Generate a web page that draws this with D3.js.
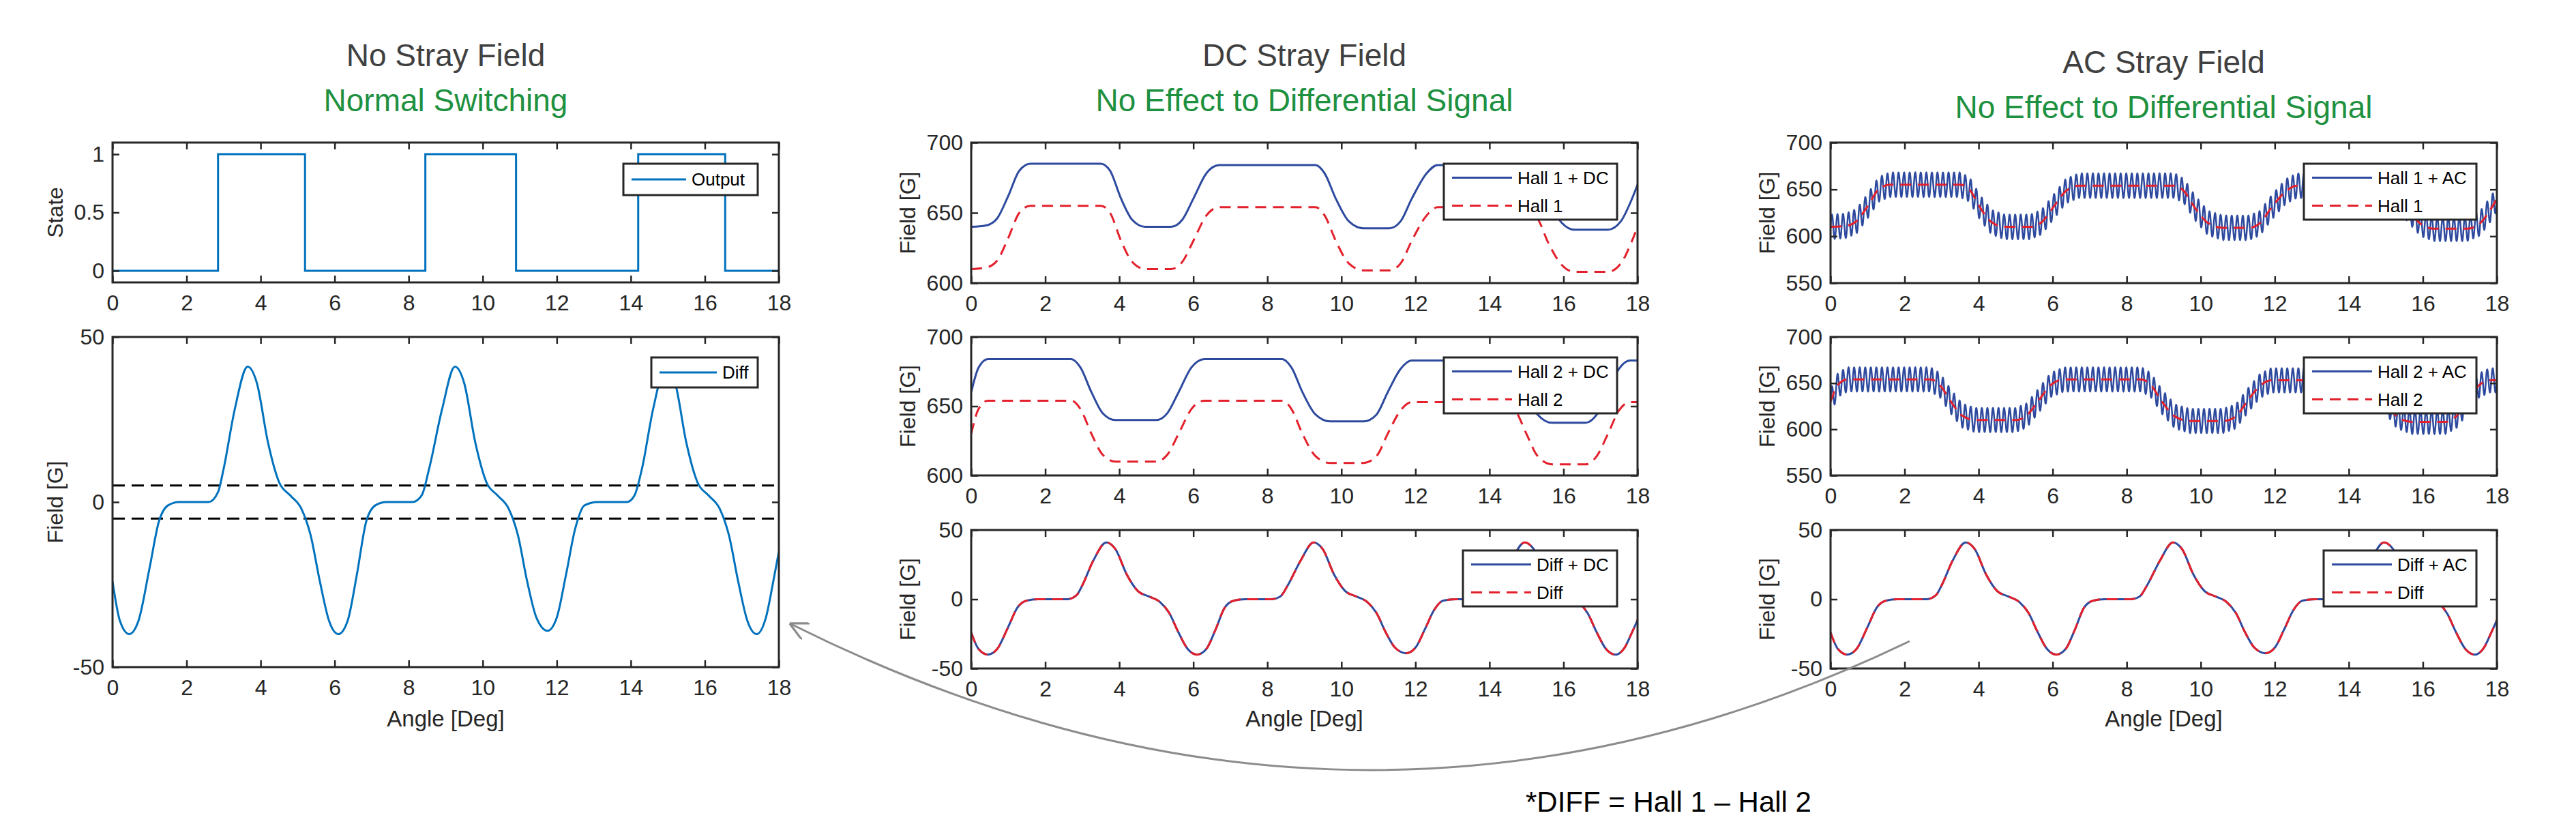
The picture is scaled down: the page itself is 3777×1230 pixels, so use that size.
<!DOCTYPE html>
<html><head><meta charset="utf-8">
<script src="https://cdn.jsdelivr.net/npm/d3@7"></script>
<style>body{margin:0;background:#fff;font-family:Arial,"Liberation Sans",sans-serif;}</style>
</head><body><svg id="chart" width="3777" height="1230"></svg>
<script>
// values (angle in deg, field in G)
const xTicks = [0, 2, 4, 6, 8, 10, 12, 14, 16, 18];
const outputEdges = [0, 2.85, 5.2, 8.45, 10.9, 14.2, 16.55, 18];
const outputLevels = [0, 1, 0, 1, 0, 1, 0];
const diffAngle = [0,0.2,0.45,0.7,1.0,1.25,1.5,1.8,2.6,2.85,3.0,3.3,3.65,3.9,4.2,4.5,4.8,5.1,5.35,5.6,5.85,6.1,6.35,6.6,6.85,7.1,7.4,8.1,8.35,8.55,8.9,9.25,9.5,9.8,10.1,10.4,10.7,10.95,11.2,11.45,11.75,12.0,12.25,12.5,12.75,13.1,13.9,14.1,14.3,14.6,14.95,15.2,15.5,15.8,16.1,16.4,16.65,16.9,17.15,17.4,17.65,17.85,18];
const diffValue = [-24,-36,-40,-36,-20,-6,-1,0,0,3,10,28,41,36,18,6,2,-2,-10,-24,-36,-40,-36,-22,-6,-1,0,0,2,10,28,41,36,18,6,2,-2,-10,-24,-35,-39,-35,-22,-8,-1,0,0,2,10,28,41,36,18,6,2,-2,-10,-24,-36,-40,-35,-24,-15];
const hall1Angle = [0,0.4,0.7,1.0,1.3,1.6,3.5,3.75,4.05,4.35,4.7,5.4,5.7,6.0,6.35,6.7,9.3,9.55,9.85,10.2,10.6,11.3,11.6,11.9,12.3,12.6,15.0,15.3,15.6,15.95,16.3,17.2,17.55,17.85,18];
const hall1Value = [610,611,616,632,650,655,655,650,630,615,610,610,615,630,648,654,654,648,630,614,609,609,614,630,648,654,653,646,628,613,608,608,614,630,640];
const hall2Angle = [0,0.2,0.45,2.7,2.95,3.25,3.55,3.9,5.0,5.3,5.6,5.95,6.3,8.4,8.65,8.95,9.3,9.7,10.6,10.95,11.25,11.6,11.9,14.4,14.7,15.0,15.3,15.7,16.6,16.9,17.2,17.5,17.8,18];
const hall2Value = [630,648,654,654,648,630,615,610,610,615,630,648,654,654,648,630,614,609,609,614,630,647,653,653,647,630,614,608,608,614,630,647,653,653];
const dcOffset = 30;      // DC stray field, G
const acAmplitude = 13;   // AC stray field amplitude, G
const acPeriod = 0.15;    // AC stray field period, deg

const svg = d3.select("#chart");
const ink = "#262626", blue = "#0072BD", navy = "#2E4A9E", red = "#E3202B";
const pts = (xs, ys) => xs.map((x, i) => [x, ys[i]]);
const lin = (xs, ys) => d3.scaleLinear().domain(xs).range(ys);

function withAC(xs, ys) {
  const f = lin(xs, ys);
  return d3.range(0, 18.0001, 0.004).map(x => [x, f(x) + acAmplitude * Math.sin(2 * Math.PI * x / acPeriod)]);
}

function panel(o) {
  const x = d3.scaleLinear().domain([0, 18]).range([o.x0, o.x1]);
  const y = d3.scaleLinear().domain(o.ydom).range([o.y1, o.y0]);
  const g = svg.append("g");
  const clipId = "c" + Math.round(o.x0) + "_" + Math.round(o.y0);
  g.append("clipPath").attr("id", clipId).append("rect")
    .attr("x", o.x0).attr("y", o.y0).attr("width", o.x1 - o.x0).attr("height", o.y1 - o.y0);
  const plot = g.append("g").attr("clip-path", `url(#${clipId})`);
  (o.hlines || []).forEach(v => plot.append("line").attr("x1", o.x0).attr("x2", o.x1)
    .attr("y1", y(v)).attr("y2", y(v)).attr("stroke", "#000").attr("stroke-width", 3).attr("stroke-dasharray", "18,10"));
  o.series.forEach(s => plot.append("path").datum(s.data)
    .attr("d", d3.line().x(d => x(d[0])).y(d => y(d[1])).curve(s.curve || d3.curveMonotoneX))
    .attr("fill", "none").attr("stroke", s.color).attr("stroke-width", s.w || 3)
    .attr("stroke-dasharray", s.dash ? "16,10" : null));
  // axes (MATLAB style, inward ticks on all sides)
  const tl = 10;
  const ax = g.append("g").attr("transform", `translate(0,${o.y1})`)
    .call(d3.axisBottom(x).tickValues(xTicks).tickSize(-tl).tickPadding(18).tickFormat(d3.format("d")));
  const axT = g.append("g").attr("transform", `translate(0,${o.y0})`)
    .call(d3.axisTop(x).tickValues(xTicks).tickSize(-tl).tickFormat(""));
  const ay = g.append("g").attr("transform", `translate(${o.x0},0)`)
    .call(d3.axisLeft(y).tickValues(o.yticks).tickSize(-tl).tickPadding(12).tickFormat(d => d));
  const ayR = g.append("g").attr("transform", `translate(${o.x1},0)`)
    .call(d3.axisRight(y).tickValues(o.yticks).tickSize(-tl).tickFormat(""));
  [ax, axT, ay, ayR].forEach(a => {
    a.select(".domain").remove();
    a.selectAll("line").attr("stroke", ink).attr("stroke-width", 2.5);
    a.selectAll("text").attr("fill", ink).style("font-size", "32px").style("font-family", "Arial, Liberation Sans");
  });
  g.append("rect").attr("x", o.x0).attr("y", o.y0).attr("width", o.x1 - o.x0).attr("height", o.y1 - o.y0)
    .attr("fill", "none").attr("stroke", ink).attr("stroke-width", 3);
  g.append("text").attr("transform", `translate(${o.ylabX},${(o.y0 + o.y1) / 2}) rotate(-90)`)
    .attr("text-anchor", "middle").attr("fill", ink).style("font-size", "32px").text(o.ylabel);
  // legend
  const L = o.legend;
  g.append("rect").attr("x", L.x).attr("y", L.y).attr("width", L.w).attr("height", L.h)
    .attr("fill", "#fff").attr("stroke", ink).attr("stroke-width", 3);
  const rowH = L.h / L.items.length;
  L.items.forEach((it, i) => {
    const cy = L.y + rowH * (i + 0.5);
    g.append("line").attr("x1", L.x + 12).attr("x2", L.x + 12 + L.sw).attr("y1", cy).attr("y2", cy)
      .attr("stroke", it.color).attr("stroke-width", 3).attr("stroke-dasharray", it.dash ? "16,10" : null);
    g.append("text").attr("x", L.x + 20 + L.sw).attr("y", cy + 9).attr("fill", "#000")
      .style("font-size", "26px").text(it.label);
  });
}

function title(cx, y, a, b) {
  svg.append("text").attr("x", cx).attr("y", y).attr("text-anchor", "middle").attr("fill", "#404040")
    .style("font-size", "46px").text(a);
  svg.append("text").attr("x", cx).attr("y", y + 66).attr("text-anchor", "middle").attr("fill", "#1E9140")
    .style("font-size", "46px").text(b);
}
function xlabel(cx) {
  svg.append("text").attr("x", cx).attr("y", 1065).attr("text-anchor", "middle").attr("fill", ink)
    .style("font-size", "33px").text("Angle [Deg]");
}

const diff = pts(diffAngle, diffValue);
const hall1 = pts(hall1Angle, hall1Value), hall2 = pts(hall2Angle, hall2Value);
const plus = (arr, c) => arr.map(d => [d[0], d[1] + c]);
const outputPts = [];
outputLevels.forEach((v, i) => { outputPts.push([outputEdges[i], v], [outputEdges[i + 1], v]); });

// ---- left column
const L0 = 165, L1 = 1142;
title((L0 + L1) / 2, 97, "No Stray Field", "Normal Switching");
panel({x0: L0, x1: L1, y0: 209, y1: 414, ydom: [-0.1, 1.1], yticks: [0, 0.5, 1], ylabel: "State", ylabX: 92,
  series: [{data: outputPts, color: blue, curve: d3.curveLinear}],
  legend: {x: 914, y: 240, w: 197, h: 46, sw: 80, items: [{label: "Output", color: blue}]}});
panel({x0: L0, x1: L1, y0: 494, y1: 978, ydom: [-50, 50], yticks: [-50, 0, 50], ylabel: "Field [G]", ylabX: 92,
  hlines: [5, -5], series: [{data: diff, color: blue}],
  legend: {x: 955, y: 524, w: 156, h: 44, sw: 84, items: [{label: "Diff", color: blue}]}});
xlabel((L0 + L1) / 2);

// ---- middle column (DC)
const M0 = 1424, M1 = 2401;
title((M0 + M1) / 2, 97, "DC Stray Field", "No Effect to Differential Signal");
panel({x0: M0, x1: M1, y0: 209, y1: 415, ydom: [600, 700], yticks: [600, 650, 700], ylabel: "Field [G]", ylabX: 1342,
  series: [{data: plus(hall1, dcOffset), color: navy}, {data: hall1, color: red, dash: true}],
  legend: {x: 2117, y: 240, w: 254, h: 82, sw: 88, items: [{label: "Hall 1 + DC", color: navy}, {label: "Hall 1", color: red, dash: true}]}});
panel({x0: M0, x1: M1, y0: 494, y1: 697, ydom: [600, 700], yticks: [600, 650, 700], ylabel: "Field [G]", ylabX: 1342,
  series: [{data: plus(hall2, dcOffset), color: navy}, {data: hall2, color: red, dash: true}],
  legend: {x: 2117, y: 524, w: 254, h: 82, sw: 88, items: [{label: "Hall 2 + DC", color: navy}, {label: "Hall 2", color: red, dash: true}]}});
panel({x0: M0, x1: M1, y0: 777, y1: 980, ydom: [-50, 50], yticks: [-50, 0, 50], ylabel: "Field [G]", ylabX: 1342,
  series: [{data: diff, color: navy}, {data: diff, color: red, dash: true}],
  legend: {x: 2145, y: 807, w: 226, h: 82, sw: 88, items: [{label: "Diff + DC", color: navy}, {label: "Diff", color: red, dash: true}]}});
xlabel((M0 + M1) / 2);

// ---- right column (AC)
const R0 = 2684, R1 = 3661;
title((R0 + R1) / 2, 107, "AC Stray Field", "No Effect to Differential Signal");
panel({x0: R0, x1: R1, y0: 209, y1: 415, ydom: [550, 700], yticks: [550, 600, 650, 700], ylabel: "Field [G]", ylabX: 2602,
  series: [{data: withAC(hall1Angle, hall1Value), color: navy, w: 2.5, curve: d3.curveLinear}, {data: hall1, color: red, dash: true}],
  legend: {x: 3378, y: 240, w: 253, h: 82, sw: 88, items: [{label: "Hall 1 + AC", color: navy}, {label: "Hall 1", color: red, dash: true}]}});
panel({x0: R0, x1: R1, y0: 494, y1: 697, ydom: [550, 700], yticks: [550, 600, 650, 700], ylabel: "Field [G]", ylabX: 2602,
  series: [{data: withAC(hall2Angle, hall2Value), color: navy, w: 2.5, curve: d3.curveLinear}, {data: hall2, color: red, dash: true}],
  legend: {x: 3378, y: 524, w: 253, h: 82, sw: 88, items: [{label: "Hall 2 + AC", color: navy}, {label: "Hall 2", color: red, dash: true}]}});
panel({x0: R0, x1: R1, y0: 777, y1: 980, ydom: [-50, 50], yticks: [-50, 0, 50], ylabel: "Field [G]", ylabX: 2602,
  series: [{data: diff, color: navy}, {data: diff, color: red, dash: true}],
  legend: {x: 3407, y: 807, w: 224, h: 82, sw: 88, items: [{label: "Diff + AC", color: navy}, {label: "Diff", color: red, dash: true}]}});
xlabel((R0 + R1) / 2);

// ---- connecting arrow and note
svg.append("defs").append("marker").attr("id", "ah").attr("viewBox", "0 0 10 10").attr("refX", 9).attr("refY", 5)
  .attr("markerWidth", 9).attr("markerHeight", 9).attr("orient", "auto")
  .append("path").attr("d", "M0,0 L10,5 L0,10").attr("fill", "none").attr("stroke", "#8c8c8c").attr("stroke-width", 1.2);
svg.append("path").attr("d", "M2800,940 Q1990,1330 1160,915").attr("fill", "none")
  .attr("stroke", "#8c8c8c").attr("stroke-width", 3).attr("marker-end", "url(#ah)");
svg.append("text").attr("x", 2237).attr("y", 1190).attr("fill", "#000").style("font-size", "42px")
  .text("*DIFF = Hall 1 \u2013 Hall 2");
</script></body></html>
